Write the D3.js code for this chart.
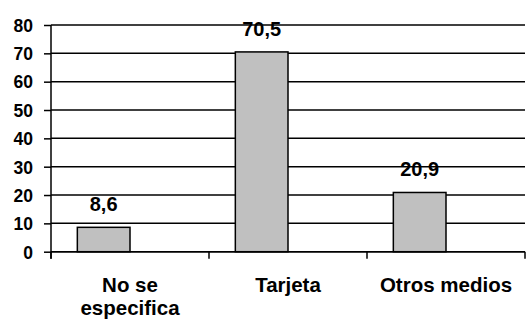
<!DOCTYPE html>
<html>
<head>
<meta charset="utf-8">
<script src="https://cdn.jsdelivr.net/npm/d3@7"></script>
<style>
  html, body { margin: 0; padding: 0; background: #fff; }
  svg { display: block; }
  text { font-family: "Liberation Sans", Arial, sans-serif; font-weight: bold; fill: #000; }
</style>
</head>
<body>
<svg id="chart" width="526" height="320"></svg>
<script>
// Forma de pago (%)
const categories = [["No se", "especifica"], ["Tarjeta"], ["Otros medios"]];
const values = [8.6, 70.5, 20.9];
const valueLabels = ["8,6", "70,5", "20,9"];
const yTicks = [0, 10, 20, 30, 40, 50, 60, 70, 80];

const svg = d3.select("#chart");
const plotLeft = 51, plotRight = 525, plotTop = 25, plotBottom = 251.7;

const keys = categories.map(c => c.join(" "));
const x = d3.scaleBand().domain(keys).range([plotLeft, plotRight]).padding(0);
const y = d3.scaleLinear().domain([0, 80]).range([plotBottom, plotTop]);
const bw = x.bandwidth();

// horizontal gridlines
svg.append("g")
  .selectAll("line")
  .data(yTicks)
  .join("line")
  .attr("x1", plotLeft).attr("x2", plotRight)
  .attr("y1", d => y(d)).attr("y2", d => y(d))
  .attr("stroke", "#000").attr("stroke-width", 1.5);

// bars sit in the left half of each category slot
svg.append("g")
  .selectAll("rect")
  .data(values)
  .join("rect")
  .attr("x", (d, i) => x(keys[i]) + bw / 6)
  .attr("width", bw / 3)
  .attr("y", d => y(d))
  .attr("height", d => y(0) - y(d))
  .attr("fill", "#c0c0c0")
  .attr("stroke", "#000")
  .attr("stroke-width", 1.5);

// value labels
svg.append("g")
  .selectAll("text")
  .data(values)
  .join("text")
  .attr("x", (d, i) => x(keys[i]) + bw / 3)
  .attr("y", d => y(d) - 16)
  .attr("text-anchor", "middle")
  .attr("font-size", 20)
  .text((d, i) => valueLabels[i]);

// y axis
const yAxis = svg.append("g")
  .attr("transform", `translate(${plotLeft},0)`)
  .call(d3.axisLeft(y).tickValues(yTicks).tickSize(7).tickSizeOuter(0).tickPadding(11));
yAxis.select(".domain").attr("stroke-width", 1.5).attr("d", `M0,${plotTop}V${plotBottom + 7}`);
yAxis.selectAll(".tick line").attr("stroke-width", 1.5);
yAxis.selectAll(".tick text").attr("font-size", 17.5).attr("font-family", null).attr("dy", "0.36em");

// x axis with ticks at category boundaries
const bounds = keys.map(k => x(k)).concat([plotRight]);
const xAxis = svg.append("g");
xAxis.append("line")
  .attr("x1", plotLeft).attr("x2", plotRight)
  .attr("y1", plotBottom).attr("y2", plotBottom)
  .attr("stroke", "#000").attr("stroke-width", 1.5);
xAxis.selectAll("line.tk")
  .data(bounds)
  .join("line")
  .attr("class", "tk")
  .attr("x1", d => d).attr("x2", d => d)
  .attr("y1", plotBottom).attr("y2", plotBottom + 7)
  .attr("stroke", "#000").attr("stroke-width", 1.5);

// category labels
const cat = xAxis.selectAll("text.cat")
  .data(categories)
  .join("text")
  .attr("class", "cat")
  .attr("x", (d, i) => x(keys[i]) + bw / 2)
  .attr("y", 291.7)
  .attr("text-anchor", "middle")
  .attr("font-size", 20.5);
cat.selectAll("tspan")
  .data(d => d)
  .join("tspan")
  .attr("x", function () { return this.parentNode.getAttribute("x"); })
  .attr("dy", (d, i) => i === 0 ? 0 : 23)
  .text(d => d);
</script>
</body>
</html>
